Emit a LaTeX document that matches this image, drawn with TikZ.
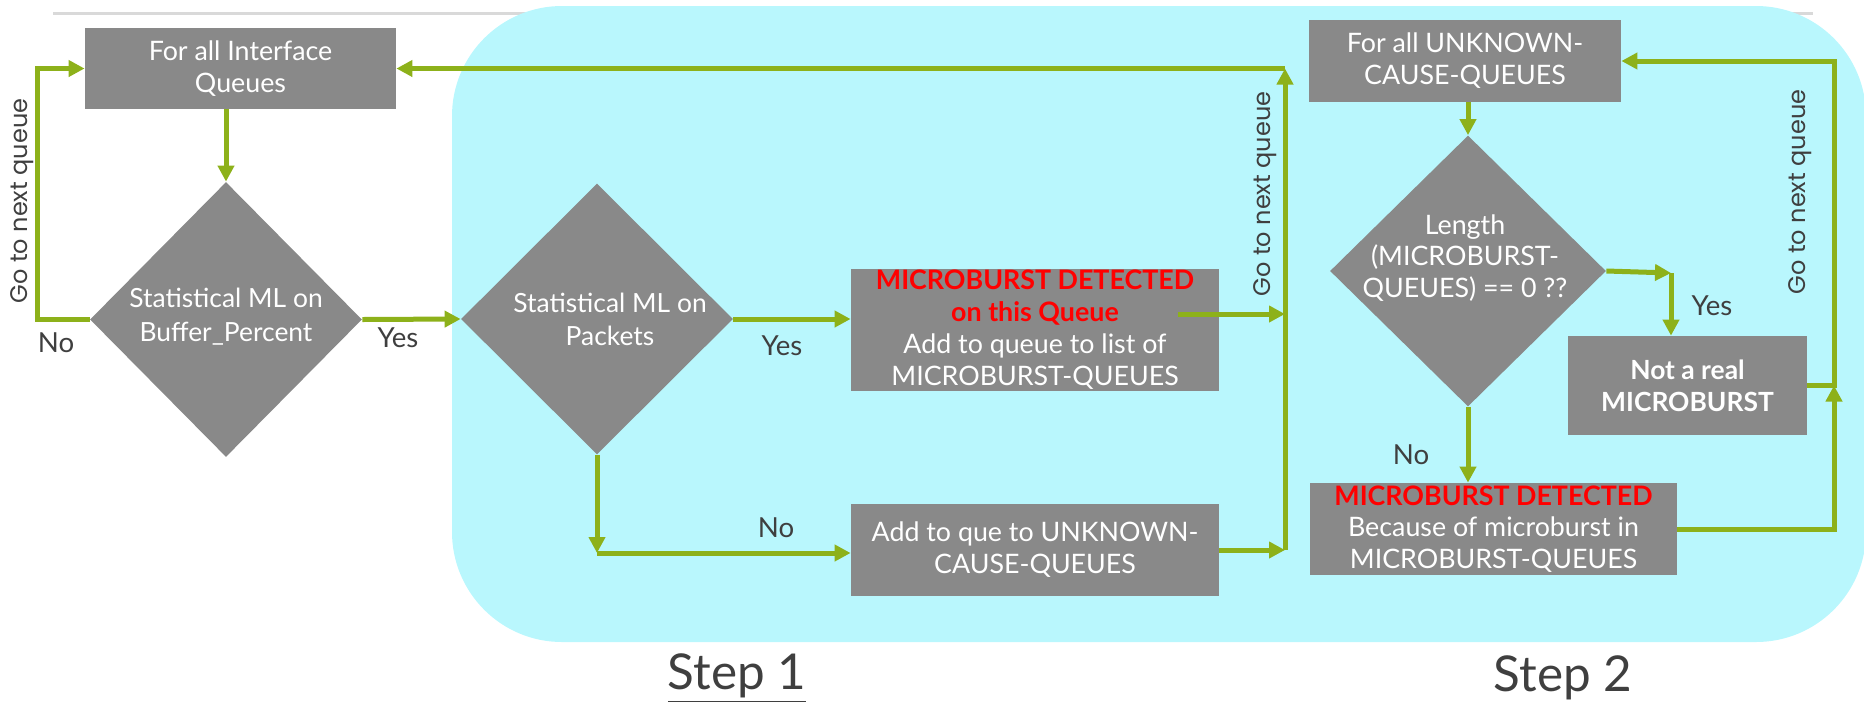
\documentclass[tikz,border=0pt]{standalone}
\usepackage{fontspec}
\setmainfont{Lato}
\newfontfamily\geofont{Poppins}
\usetikzlibrary{arrows.meta,shapes.geometric}
\definecolor{cyanbg}{HTML}{B9F7FD}
\definecolor{boxgray}{HTML}{898989}
\definecolor{flowgreen}{HTML}{8DB11A}
\definecolor{labelgray}{HTML}{3F3F3F}
\definecolor{rulegray}{HTML}{D9D9D9}
\definecolor{alertred}{HTML}{FF0000}
\begin{document}
\begin{tikzpicture}[x=0.5pt,y=-0.5pt,
  box/.style={fill=boxgray, text=white, align=center, inner sep=0pt,
    font=\fontsize{13.4}{16}\selectfont},
  dia/.style={diamond, fill=boxgray, inner sep=0pt},
  diatext/.style={text=white, align=center, inner sep=0pt,
    font=\fontsize{13.2}{16.5}\selectfont},
  flow/.style={draw=flowgreen, line width=2.5pt, line join=miter,
    -{Triangle[length=8pt,width=8pt]}},
  lbl/.style={text=labelgray, inner sep=0pt, font=\fontsize{13.8}{16}\selectfont},
  loopnote/.style={lbl, rotate=90, font=\geofont\fontsize{12}{14}\selectfont},
  caption/.style={lbl, font=\fontsize{24.7}{28}\selectfont},
]
\useasboundingbox (0,0) rectangle (1864,703);

% header rule and the shaded step region
\draw[rulegray, line width=1.5pt] (53,13) -- (1813,13);
\fill[cyanbg, rounded corners=55pt] (452,6) rectangle (1866,642);

% ---- Step 1 ----
\node[box, minimum width=155.5pt, minimum height=40.5pt] (b1) at (240.5,68.5)
  {For all Interface\\Queues};
\node[dia, minimum width=136pt, minimum height=137.5pt] (d1) at (226,319.5) {};
\node[diatext, font=\fontsize{13.2}{17}\selectfont] (d1t) at (226,317)
  {Statistical ML on\\Buffer\_Percent};

\node[dia, minimum width=136pt, minimum height=135.5pt] (d2) at (597,319) {};
\node[diatext] (d2t) at (610,319)
  {Statistical ML on\\Packets};

\node[box, minimum width=184pt, minimum height=61pt] (b3) at (1035,330)
  {\textcolor{alertred}{\bfseries MICROBURST DETECTED}\\
   \textcolor{alertred}{\bfseries on this Queue}\\
   Add to queue to list of\\MICROBURST-QUEUES};
\node[box, minimum width=184pt, minimum height=46pt] (b4) at (1035,550)
  {Add to que to UNKNOWN-\\CAUSE-QUEUES};

\coordinate (loopL) at (37,68.5);
\coordinate (jt) at (1285,68.5);
\coordinate (j3) at (1285,314);
\coordinate (c2) at (597,553);

\draw[flow] (b1.south -| d1.north) -- (d1.north);
\draw[flow] (d1.west) -| (loopL) -- (b1.west);
\draw[flow] (d1.east) -- (d2.west);
\draw[flow] (d2.east) -- (d2.east -| b3.west);
\draw[flow] (j3 -| b3.east) ++(-41,0) -- (j3);
\draw[flow] (d2.south) -- (c2);
\draw[flow] (c2) -- (c2 -| b4.west);
\draw[flow] (b4.east) -- (b4.east -| jt);
\draw[flow] (b4.east -| jt) -- (jt);
\draw[flow] (jt) -- (b1.east);

\node[loopnote] (g1) at (22,201) {Go to next queue};
\node[loopnote] (g2) at (1265,194) {Go to next queue};
\node[lbl] (no1) at (56,343) {No};
\node[lbl] (yes1) at (398,338) {Yes};
\node[lbl] (yes2) at (782,346) {Yes};
\node[lbl] (no2) at (776,528) {No};

% ---- Step 2 ----
\node[box, minimum width=156pt, minimum height=41pt] (b5) at (1465,61)
  {For all UNKNOWN-\\CAUSE-QUEUES};
\node[dia, minimum width=138pt, minimum height=135.5pt] (d3) at (1468,271) {};
\node[diatext, font=\fontsize{13.4}{15.8}\selectfont] (d3t) at (1465,258)
  {Length\\(MICROBURST-\\QUEUES) == 0 ??};
\node[box, minimum width=119.5pt, minimum height=49.5pt,
  font=\bfseries\fontsize{13.2}{16}\selectfont] (b6) at (1687.5,385.5)
  {Not a real\\MICROBURST};
\node[box, minimum width=183.5pt, minimum height=46pt,
  font=\fontsize{13.4}{15.8}\selectfont] (b7) at (1493.5,529)
  {\textcolor{alertred}{\bfseries MICROBURST DETECTED}\\
   Because of microburst in\\MICROBURST-QUEUES};

\coordinate (c3) at (1671,273);
\coordinate (rr) at (1834,61);

\draw[flow] (b5.south -| d3.north) -- (d3.north);
\draw[flow] (d3.east) -- (c3);
\draw[flow] (c3) -- (c3 |- b6.north);
\draw[flow] (d3.south) -- (d3.south |- b7.north);
\draw[flow] (b7.east) -| (b6.east -| rr);
\draw[flow] (b6.east) -| (rr) -- (b5.east);

\node[loopnote] (g3) at (1800,192) {Go to next queue};
\node[lbl] (yes3) at (1712,306) {Yes};
\node[lbl] (no3) at (1411,455) {No};

% ---- step captions ----
\node[caption] (s1) at (737,678) {\underline{Step 1}};
\node[caption] (s2) at (1563,678) {Step 2};
\end{tikzpicture}
\end{document}
